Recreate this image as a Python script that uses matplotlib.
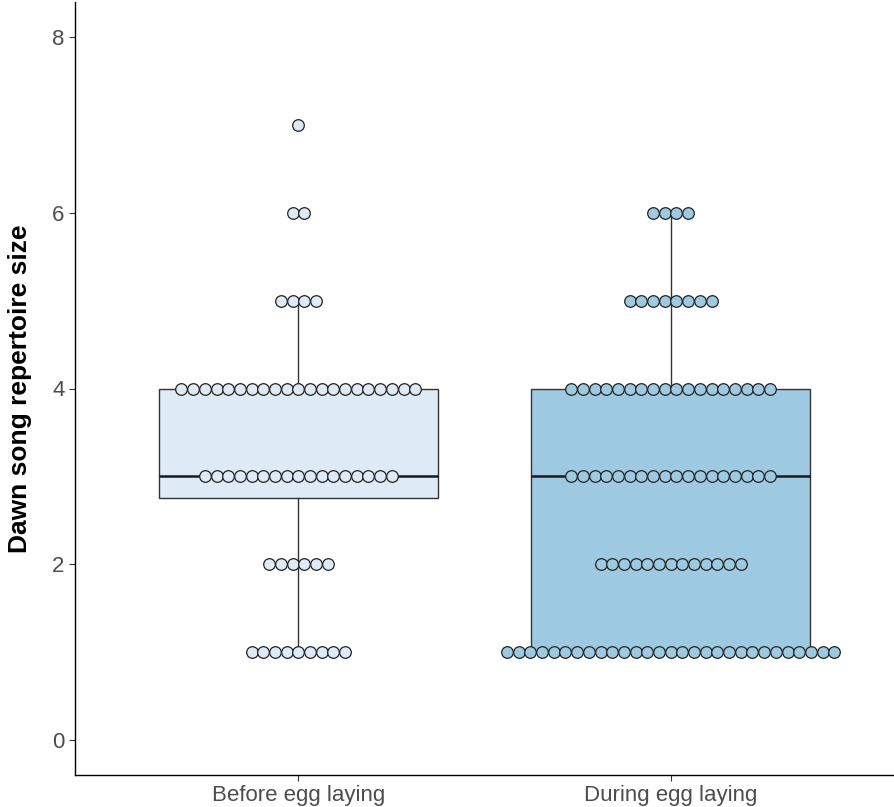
import numpy as np
import matplotlib
matplotlib.use("Agg")
import matplotlib.pyplot as plt

plt.rcParams['font.family'] = ['Liberation Sans', 'DejaVu Sans']

# repertoire sizes and how many birds sit at each size
sizes = [1, 2, 3, 4, 5, 6, 7]
before_counts = [9, 6, 17, 21, 4, 2, 1]
during_counts = [29, 13, 18, 18, 8, 4, 0]
groups = ['Before egg laying', 'During egg laying']
fills = ['#DEEBF7', '#9ECAE1']

before = np.repeat(sizes, before_counts)
during = np.repeat(sizes, during_counts)

fig = plt.figure(figsize=(8.94, 8.07), dpi=100)
ax = fig.add_axes([75/894, 32/807, 819/894, 773/807])

bp = ax.boxplot([before, during], positions=[1, 2], widths=0.75, whis=1.5,
                patch_artist=True, showfliers=False, showcaps=False,
                medianprops=dict(color='#1a1a1a', linewidth=1.8),
                whiskerprops=dict(color='#333333', linewidth=1.0),
                boxprops=dict(edgecolor='#333333', linewidth=1.0),
                zorder=1)
for patch, c in zip(bp['boxes'], fills):
    patch.set_facecolor(c)

# centred dot stacks
dot_w = 0.0314
for pos, counts, c in zip([1, 2], [before_counts, during_counts], fills):
    for v, n in zip(sizes, counts):
        if n == 0:
            continue
        xs = pos + (np.arange(n) - (n - 1) / 2) * dot_w
        ax.scatter(xs, np.full(n, v), s=70, facecolor=c, edgecolor='#222222',
                   linewidth=0.9, zorder=3)

ax.set_xlim(0.4, 2.6)
ax.set_ylim(-0.4, 8.4)
ax.set_xticks([1, 2])
ax.set_xticklabels(groups)
ax.set_yticks([0, 2, 4, 6, 8])
ax.set_ylabel('Dawn song repertoire size', fontsize=19, fontweight='bold', color='black')
ax.yaxis.set_label_coords(-0.053, 0.5)
ax.tick_params(axis='both', labelsize=16, labelcolor='#4D4D4D', color='#333333', length=4, width=0.8)
for s in ['top', 'right']:
    ax.spines[s].set_visible(False)
for s in ['left', 'bottom']:
    ax.spines[s].set_linewidth(1.0)

fig.savefig('out.png', dpi=100)
